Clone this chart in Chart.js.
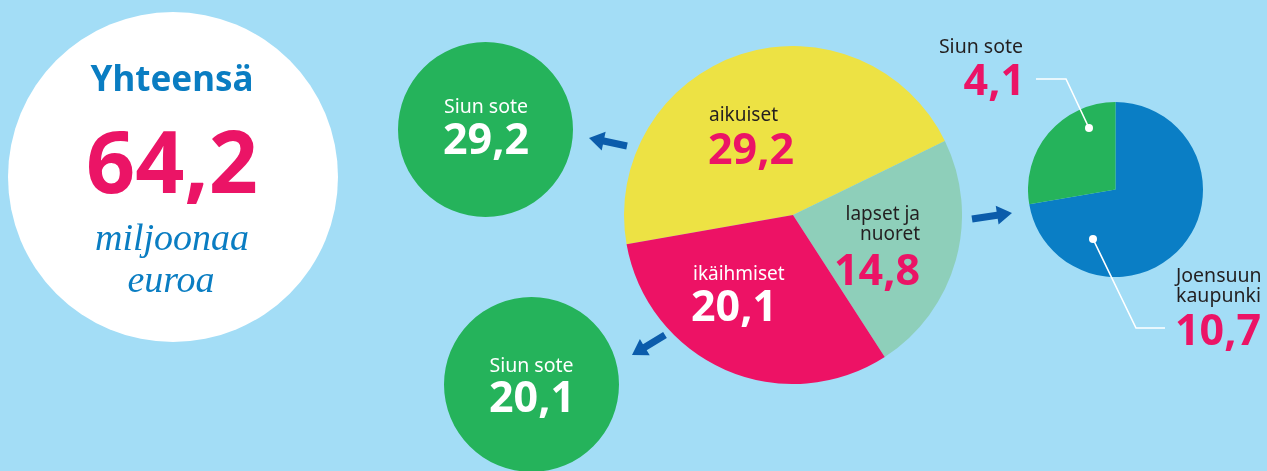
<!DOCTYPE html>
<html>
<head>
<meta charset="utf-8">
<script src="https://cdn.jsdelivr.net/npm/chart.js@4.4.1/dist/chart.umd.min.js"></script>
<style>
  html, body { margin: 0; padding: 0; background: #a3ddf6; }
  #wrap { position: relative; width: 1267px; height: 471px; overflow: hidden; background: #a3ddf6; }
  #wrap canvas { position: absolute; }
  #wrap svg { position: absolute; left: 0; top: 0; pointer-events: none; }
</style>
</head>
<body>
<div id="wrap">
  <svg id="under" width="1267" height="471"></svg>
  <canvas id="cMain" width="338" height="338" style="left:624px;top:46px"></canvas>
  <canvas id="cAdults" width="175" height="175" style="left:398px;top:42px"></canvas>
  <canvas id="cElderly" width="175" height="175" style="left:444px;top:297px"></canvas>
  <canvas id="cYouth" width="175" height="175" style="left:1028px;top:102px"></canvas>
  <svg id="over" width="1267" height="471"></svg>
</div>
<script>
// ---- Data (million euros) ----
const totalLabel = 'Yhteensä';
const totalValue = 64.2;
const totalUnit = ['miljoonaa', 'euroa'];

const mainCategories = ['aikuiset', 'lapset ja nuoret', 'ikäihmiset'];
const mainValues = [29.2, 14.8, 20.1];

const adultsPayers = ['Siun sote'];
const adultsValues = [29.2];

const elderlyPayers = ['Siun sote'];
const elderlyValues = [20.1];

const youthPayers = ['Joensuun kaupunki', 'Siun sote'];
const youthValues = [10.7, 4.1];

// ---- Styles ----
const C = {
  yellow: '#ede244', teal: '#8ecfba', pink: '#ed1265', green: '#25b35b', blue: '#0a7ec5',
  pinkText: '#eb1466', dark: '#231f20', title: '#0a7dc2', arrow: '#0b5cab'
};
const SANS = "'Noto Sans', 'DejaVu Sans', sans-serif";
const SERIF = "'Liberation Serif', 'DejaVu Serif', serif";
const fmt = v => v.toFixed(1).replace('.', ',');

function makePie(id, labels, values, colors, rotation) {
  return new Chart(document.getElementById(id), {
    type: 'pie',
    data: { labels, datasets: [{ data: values, backgroundColor: colors, borderWidth: 0, hoverOffset: 0, offset: 0 }] },
    options: {
      responsive: false, animation: false, events: [], devicePixelRatio: 1,
      rotation,
      layout: { padding: 0 },
      plugins: { legend: { display: false }, tooltip: { enabled: false } }
    }
  });
}

makePie('cMain', mainCategories, mainValues, [C.yellow, C.teal, C.pink], 260);
makePie('cAdults', adultsPayers, adultsValues, [C.green], 0);
makePie('cElderly', elderlyPayers, elderlyValues, [C.green], 0);
makePie('cYouth', youthPayers, youthValues, [C.blue, C.green], 0);

// ---- SVG helpers ----
const NS = 'http://www.w3.org/2000/svg';
function el(svg, tag, attrs) {
  const e = document.createElementNS(NS, tag);
  for (const k in attrs) e.setAttribute(k, attrs[k]);
  svg.appendChild(e);
  return e;
}
function text(svg, str, x, y, o) {
  const t = el(svg, 'text', {
    x, y, 'text-anchor': o.anchor || 'start',
    'font-family': o.family || SANS, 'font-size': o.size, 'font-weight': o.weight || 400,
    'font-style': o.style || 'normal', fill: o.color
  });
  if (o.ls) t.setAttribute('letter-spacing', o.ls);
  t.textContent = str;
  return t;
}
function arrow(svg, x1, y1, x2, y2) {
  const dx = x2 - x1, dy = y2 - y1, L = Math.hypot(dx, dy);
  const ux = dx / L, uy = dy / L, nx = -uy, ny = ux;
  const hl = 15, hw = 9.5, sw = 3.6;
  const bx = x2 - ux * hl, by = y2 - uy * hl;
  const pts = [
    [x1 + nx * sw, y1 + ny * sw], [bx + nx * sw, by + ny * sw], [bx + nx * hw, by + ny * hw],
    [x2, y2], [bx - nx * hw, by - ny * hw], [bx - nx * sw, by - ny * sw], [x1 - nx * sw, y1 - ny * sw]
  ];
  el(svg, 'polygon', { points: pts.map(p => p.join(',')).join(' '), fill: C.arrow });
}

const under = document.getElementById('under');
el(under, 'circle', { cx: 173, cy: 177, r: 165, fill: '#ffffff' });

const over = document.getElementById('over');
// Total circle
text(over, totalLabel, 172, 91, { size: 35, weight: 700, color: C.title, anchor: 'middle' });
text(over, fmt(totalValue), 172, 193, { size: 86, weight: 700, color: C.pinkText, anchor: 'middle' });
text(over, totalUnit[0], 172, 250, { size: 38, style: 'italic', color: C.title, anchor: 'middle', family: SERIF });
text(over, totalUnit[1], 171, 292, { size: 38, style: 'italic', color: C.title, anchor: 'middle', family: SERIF });

// Main pie labels
text(over, mainCategories[0], 709, 121, { size: 19, color: C.dark });
text(over, fmt(mainValues[0]), 708, 164, { size: 43, weight: 700, color: C.pinkText });
text(over, 'lapset ja', 920, 220, { size: 19, color: C.dark, anchor: 'end' });
text(over, 'nuoret', 920, 240, { size: 19, color: C.dark, anchor: 'end' });
text(over, fmt(mainValues[1]), 920, 285, { size: 43, weight: 700, color: C.pinkText, anchor: 'end' });
text(over, mainCategories[2], 693, 280, { size: 19, color: '#ffffff' });
text(over, fmt(mainValues[2]), 691, 321, { size: 43, weight: 700, color: '#ffffff' });

// Small pies
text(over, adultsPayers[0], 486, 113, { size: 19.5, color: '#ffffff', anchor: 'middle' });
text(over, fmt(adultsValues[0]), 486, 154, { size: 43, weight: 700, color: '#ffffff', anchor: 'middle' });
text(over, elderlyPayers[0], 531.5, 372, { size: 19.5, color: '#ffffff', anchor: 'middle' });
text(over, fmt(elderlyValues[0]), 532, 412, { size: 43, weight: 700, color: '#ffffff', anchor: 'middle' });

// Youth pie labels + leaders
text(over, youthPayers[1], 1023, 53, { size: 19.5, color: C.dark, anchor: 'end' });
text(over, fmt(youthValues[1]), 1025, 95, { size: 43, weight: 700, color: C.pinkText, anchor: 'end' });
text(over, 'Joensuun', 1176, 282, { size: 19.5, color: C.dark });
text(over, 'kaupunki', 1176, 302, { size: 19.5, color: C.dark });
text(over, fmt(youthValues[0]), 1175, 345, { size: 43, weight: 700, color: C.pinkText });

el(over, 'polyline', { points: '1036,79 1066,79 1089,128', fill: 'none', stroke: '#ffffff', 'stroke-width': 1.6 });
el(over, 'circle', { cx: 1089, cy: 128, r: 4, fill: '#ffffff' });
el(over, 'polyline', { points: '1093,239 1136,328 1165,328', fill: 'none', stroke: '#ffffff', 'stroke-width': 1.6 });
el(over, 'circle', { cx: 1093, cy: 239, r: 4, fill: '#ffffff' });

// Arrows
arrow(over, 627, 146, 589, 138);
arrow(over, 972, 219, 1012, 213);
arrow(over, 665, 335, 632, 355);
</script>
</body>
</html>
